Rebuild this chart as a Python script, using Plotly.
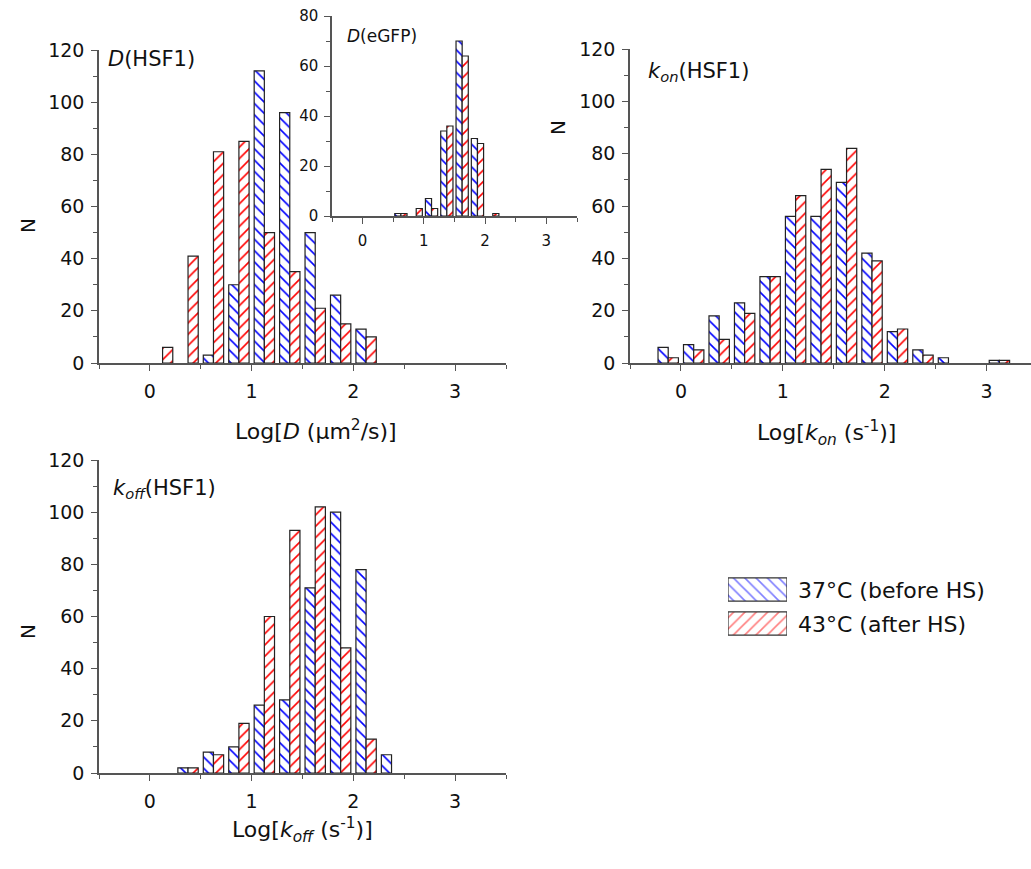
import plotly.graph_objects as go

# ---------------- data ----------------
# bin centres (log10 scale), bin width 0.25
bins_D = [0.125, 0.375, 0.625, 0.875, 1.125, 1.375, 1.625, 1.875, 2.125]
D_37 = [None, None, 3, 30, 112, 96, 50, 26, 13]
D_43 = [6, 41, 81, 85, 50, 35, 21, 15, 10]

bins_eGFP = [0.625, 0.875, 1.125, 1.375, 1.625, 1.875, 2.125]
eGFP_37 = [1, None, 7, 34, 70, 31, None]
eGFP_43 = [1, 3, 3, 36, 64, 29, 1]

bins_kon = [-0.125, 0.125, 0.375, 0.625, 0.875, 1.125, 1.375, 1.625, 1.875,
            2.125, 2.375, 2.625, 3.125]
kon_37 = [6, 7, 18, 23, 33, 56, 56, 69, 42, 12, 5, 2, 1]
kon_43 = [2, 5, 9, 19, 33, 64, 74, 82, 39, 13, 3, None, 1]

bins_koff = [0.375, 0.625, 0.875, 1.125, 1.375, 1.625, 1.875, 2.125, 2.375]
koff_37 = [2, 8, 10, 26, 28, 71, 100, 78, 7]
koff_43 = [2, 7, 19, 60, 93, 102, 48, 13, None]

series_names = ["37°C (before HS)", "43°C (after HS)"]

# ---------------- style ----------------
W, H = 1031, 869
FONT = "DejaVu Sans"
BLUE, RED = "#0000ff", "#ff0000"
AXC = "#555555"
SOL = 0.2


def px(x):
    return x / W


def py(y):
    return 1 - y / H


def bar(x, y, color, shape, xa, ya, offset, name):
    return go.Bar(
        x=x, y=y, xaxis=xa, yaxis=ya, name=name, showlegend=False,
        width=0.1, offset=offset,
        marker=dict(color="white",
                    line=dict(color="#222222", width=1.2),
                    pattern=dict(shape=shape, fgcolor=color, bgcolor="white",
                                 size=8, solidity=SOL, fillmode="replace")),
        hoverinfo="x+y",
    )


fig = go.Figure()
panels = [
    (bins_D, D_37, D_43, "x", "y"),
    (bins_kon, kon_37, kon_43, "x2", "y2"),
    (bins_koff, koff_37, koff_43, "x3", "y3"),
    (bins_eGFP, eGFP_37, eGFP_43, "x4", "y4"),
]
for b, s37, s43, xa, ya in panels:
    fig.add_trace(bar(b, s37, BLUE, "\\", xa, ya, -0.1, series_names[0]))
    fig.add_trace(bar(b, s43, RED, "/", xa, ya, 0.0, series_names[1]))

# legend swatches (helper axis)
for yy, shape, col, nm in [(1, "\\", BLUE, series_names[0]), (0, "/", RED, series_names[1])]:
    fig.add_trace(go.Bar(y=[yy], x=[1], orientation="h", xaxis="x5", yaxis="y5",
                         width=0.68, showlegend=False, hoverinfo="skip", name=nm,
                         marker=dict(color="white", line=dict(color="#333333", width=1.2),
                                     pattern=dict(shape=shape, fgcolor=col, bgcolor="white",
                                                  size=8, solidity=SOL))))


def xax(domain, rng, anchor, size):
    return dict(domain=domain, range=rng, anchor=anchor, dtick=1, tick0=0,
                automargin=False,
                showline=True, linecolor=AXC, linewidth=1.5, ticks="outside",
                ticklen=6, tickwidth=1.2, tickcolor=AXC, showgrid=False,
                zeroline=False, tickfont=dict(family=FONT, size=size, color="#111"),
                minor=dict(dtick=0.5, tick0=0, ticks="outside", ticklen=4,
                           tickcolor=AXC, tickwidth=1.2, showgrid=False),
                ticklabelstandoff=4)


def yax(domain, rng, anchor, size, dtick=20):
    return dict(domain=domain, range=rng, anchor=anchor, dtick=dtick, tick0=0,
                automargin=False,
                showline=True, linecolor=AXC, linewidth=1.5, ticks="outside",
                ticklen=6, tickwidth=1.2, tickcolor=AXC, showgrid=False,
                zeroline=False, tickfont=dict(family=FONT, size=size, color="#111"),
                minor=dict(dtick=dtick / 2, tick0=0, ticks="outside", ticklen=4,
                           tickcolor=AXC, tickwidth=1.2, showgrid=False),
                ticklabelstandoff=3)


layout = dict(
    width=W, height=H, margin=dict(l=0, r=0, t=0, b=0, pad=0, autoexpand=False),
    paper_bgcolor="white", plot_bgcolor="rgba(0,0,0,0)",
    barmode="overlay", showlegend=False,
    font=dict(family=FONT, color="#111"),
    xaxis=xax([px(99), px(506)], [-0.5, 3.5], "y", 19),
    yaxis=yax([py(363), py(50)], [0, 120], "x", 19),
    xaxis2=xax([px(630), 1.0], [-0.5, 3.435], "y2", 19),
    yaxis2=yax([py(363), py(49)], [0, 120], "x2", 19),
    xaxis3=xax([px(99), px(506)], [-0.5, 3.5], "y3", 19),
    yaxis3=yax([py(773), py(460)], [0, 120], "x3", 19),
    xaxis4=xax([px(332), px(577)], [-0.5, 3.5], "y4", 15),
    yaxis4=yax([py(216), py(16)], [0, 80], "x4", 15),
    xaxis5=dict(domain=[px(728), px(787)], range=[0, 1], anchor="y5",
                visible=False, fixedrange=True, automargin=False),
    yaxis5=dict(domain=[py(640.5), py(572.5)], range=[-0.5, 1.5], anchor="x5",
                visible=False, fixedrange=True, automargin=False),
)
fig.update_layout(**layout)


def ann(text, x, y, size, xanchor="left", angle=0, yanchor="middle"):
    fig.add_annotation(text=text, x=px(x), y=py(y), xref="paper", yref="paper",
                       xanchor=xanchor, yanchor=yanchor, showarrow=False,
                       textangle=angle, font=dict(family=FONT, size=size, color="#111"))


# panel labels
ann("<i>D</i>(HSF1)", 106, 59, 21)
ann("<i>D</i>(eGFP)", 345, 36, 17)
ann("<i>k</i><sub><i>on</i></sub>(HSF1)", 646, 72, 21)
ann("<i>k</i><sub><i>off</i></sub>(HSF1)", 111, 489, 21)

# axis titles
ann("Log[<i>D</i> (μm<sup>2</sup>/s)]", 316, 430, 22, xanchor="center")
ann("Log[<i>k</i><sub><i>on</i></sub> (s<sup>-1</sup>)]", 826, 433, 22, xanchor="center")
ann("Log[<i>k</i><sub><i>off</i></sub> (s<sup>-1</sup>)]", 302, 830, 22, xanchor="center")
ann("N", 28, 226, 20, xanchor="center", angle=-90)
ann("N", 558, 128, 20, xanchor="center", angle=-90)
ann("N", 28, 632, 20, xanchor="center", angle=-90)

# legend texts
ann(series_names[0], 796, 590, 22)
ann(series_names[1], 796, 624, 22)

fig.write_html("out.html")
